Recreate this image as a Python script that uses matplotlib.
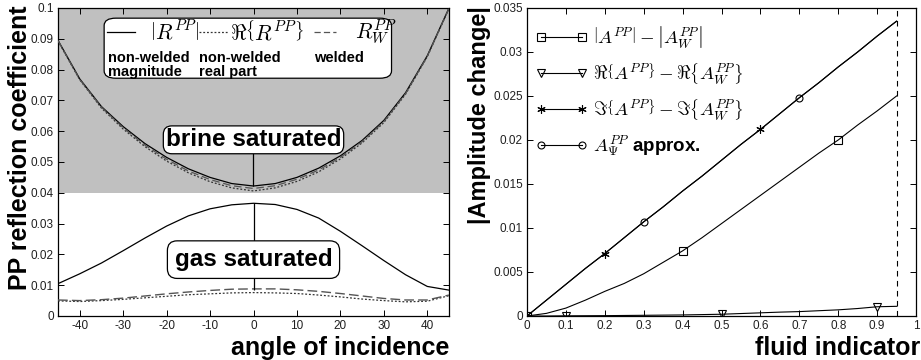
import matplotlib
matplotlib.use("Agg")
import matplotlib.pyplot as plt
from matplotlib.patches import FancyBboxPatch
from matplotlib.lines import Line2D
import numpy as np

plt.rcParams['font.family'] = ['Liberation Sans', 'DejaVu Sans']
plt.rcParams['mathtext.fontset'] = 'cm'

# ---------------- Data: left panel ----------------
angles = [-45, -40, -35, -30, -25, -20, -15, -10, -5, 0, 5, 10, 15, 20, 25, 30, 35, 40, 45]
brine_abs = [0.0895, 0.0770, 0.0680, 0.0615, 0.0560, 0.0515, 0.0478, 0.0450, 0.0430, 0.0422,
             0.0430, 0.0450, 0.0480, 0.0520, 0.0570, 0.0635, 0.0725, 0.0845, 0.1000]
brine_real = [0.0893, 0.0767, 0.0675, 0.0607, 0.0550, 0.0503, 0.0465, 0.0436, 0.0416, 0.0406,
              0.0416, 0.0437, 0.0468, 0.0510, 0.0562, 0.0628, 0.0720, 0.0842, 0.0998]
brine_welded = [0.0894, 0.0768, 0.0678, 0.0611, 0.0555, 0.0509, 0.0471, 0.0443, 0.0423, 0.0414,
                0.0423, 0.0444, 0.0474, 0.0515, 0.0566, 0.0631, 0.0722, 0.0843, 0.0999]
gas_abs = [0.0105, 0.0137, 0.0172, 0.0212, 0.0253, 0.0292, 0.0325, 0.0348, 0.0361, 0.0366,
           0.0362, 0.0346, 0.0318, 0.0275, 0.0228, 0.0180, 0.0134, 0.0096, 0.0084]
gas_real = [0.0049, 0.0047, 0.0050, 0.0054, 0.0059, 0.0064, 0.0069, 0.0072, 0.0075, 0.0076,
            0.0075, 0.0073, 0.0068, 0.0062, 0.0055, 0.0050, 0.0046, 0.0048, 0.0066]
gas_welded = [0.0052, 0.0050, 0.0053, 0.0058, 0.0065, 0.0072, 0.0078, 0.0083, 0.0087, 0.0088,
              0.0088, 0.0085, 0.0080, 0.0073, 0.0065, 0.0057, 0.0052, 0.0052, 0.0068]
left_xticks = [-40, -30, -20, -10, 0, 10, 20, 30, 40]
left_yticks = [0, 0.01, 0.02, 0.03, 0.04, 0.05, 0.06, 0.07, 0.08, 0.09, 0.1]
left_yticklabels = ['0', '0.01', '0.02', '0.03', '0.04', '0.05', '0.06', '0.07', '0.08', '0.09', '0.1']
brine_gas_boundary = 0.04

# ---------------- Data: right panel ----------------
fluid = [0.0, 0.05, 0.1, 0.15, 0.2, 0.25, 0.3, 0.35, 0.4, 0.45,
         0.5, 0.55, 0.6, 0.65, 0.7, 0.75, 0.8, 0.85, 0.9, 0.95]
abs_diff = [0.0, 0.0003, 0.0009, 0.0018, 0.0028, 0.0037, 0.0048, 0.0061, 0.0074, 0.0089,
            0.0105, 0.0121, 0.0137, 0.0153, 0.0169, 0.0185, 0.0200, 0.0217, 0.0233, 0.0250]
real_diff = [0.0, 0.0, 0.00002, 0.00003, 0.00004, 0.00006, 0.00008, 0.0001, 0.00012, 0.00016,
             0.0002, 0.00028, 0.00036, 0.00044, 0.0005, 0.0006, 0.0007, 0.00085, 0.00105, 0.0011]
imag_diff = [0.0, 0.0018, 0.0036, 0.0054, 0.0071, 0.0089, 0.0107, 0.0124, 0.0142, 0.0159,
             0.0177, 0.0195, 0.0212, 0.0230, 0.0248, 0.0265, 0.0283, 0.0300, 0.0318, 0.0335]
approx = [0.0, 0.0018, 0.0036, 0.0054, 0.0071, 0.0089, 0.0107, 0.0124, 0.0142, 0.0159,
          0.0177, 0.0195, 0.0212, 0.0230, 0.0248, 0.0265, 0.0283, 0.0300, 0.0318, 0.0335]
right_xticks = [0, 0.1, 0.2, 0.3, 0.4, 0.5, 0.6, 0.7, 0.8, 0.9, 1]
right_xticklabels = ['0', '0.1', '0.2', '0.3', '0.4', '0.5', '0.6', '0.7', '0.8', '0.9', '1']
right_yticks = [0, 0.005, 0.01, 0.015, 0.02, 0.025, 0.03, 0.035]
right_yticklabels = ['0', '0.005', '0.01', '0.015', '0.02', '0.025', '0.03', '0.035']

W, H = 921, 360
fig = plt.figure(figsize=(W / 100, H / 100), dpi=100)

def ax_rect(l, r, t, b):
    return [l / W, 1 - b / H, (r - l) / W, (b - t) / H]

tick_color = '#202020'

def style_axes(ax):
    ax.tick_params(direction='in', length=4, width=0.7, top=True, right=True,
                   labelsize=8.5, labelcolor=tick_color, pad=3)
    for s in ax.spines.values():
        s.set_linewidth(0.9)

# ---------------- Left panel ----------------
ax1 = fig.add_axes(ax_rect(58, 449, 8, 316))
ax1.axhspan(brine_gas_boundary, 0.1, color='#c0c0c0', lw=0, zorder=0)
ax1.plot(angles, brine_abs, color='black', lw=0.9, zorder=3)
ax1.plot(angles, brine_real, color='#333333', lw=0.9, ls=(0, (1.5, 1.5)), zorder=3)
ax1.plot(angles, brine_welded, color='#555555', lw=0.9, ls=(0, (6, 3)), zorder=3)
ax1.plot(angles, gas_abs, color='black', lw=0.9, zorder=3)
ax1.plot(angles, gas_real, color='#333333', lw=0.9, ls=(0, (1.5, 1.5)), zorder=3)
ax1.plot(angles, gas_welded, color='#555555', lw=1.0, ls=(0, (7, 3)), zorder=3)
ax1.set_xlim(-45, 45)
ax1.set_ylim(0, 0.1)
ax1.set_xticks(left_xticks)
ax1.set_xticklabels([str(v) for v in left_xticks])
ax1.set_yticks(left_yticks)
ax1.set_yticklabels(left_yticklabels)
style_axes(ax1)

i0 = angles.index(0)
ax1.annotate('brine saturated', xy=(0, brine_abs[i0]), xytext=(0, 0.0572),
             ha='center', va='center', fontsize=17.5, fontweight='bold',
             bbox=dict(boxstyle='round,pad=0.1,rounding_size=0.35', fc='white', ec='black', lw=0.9),
             arrowprops=dict(arrowstyle='-', lw=0.9, color='black', shrinkA=0, shrinkB=0),
             zorder=5)
ax1.vlines(angles[i0], gas_welded[i0] - 0.0004, gas_abs[i0], color='black', lw=0.9, zorder=4)
ax1.text(0, 0.0183, 'gas saturated', ha='center', va='center', fontsize=17.5,
         fontweight='bold',
         bbox=dict(boxstyle='round,pad=0.3,rounding_size=0.4', fc='white', ec='black', lw=0.9),
         zorder=5)

# custom legend box (axes coords)
leg_box = FancyBboxPatch((0.118, 0.772), 0.735, 0.195, transform=ax1.transAxes,
                         boxstyle='round,pad=0,rounding_size=0.03', fc='white', ec='black',
                         lw=0.9, zorder=6, mutation_aspect=0.8)
ax1.add_patch(leg_box)
row_y = 0.922
samples = [(0.125, 0.197, '-', 'black', r'$\left|R^{PP}\right|$', 0.235,
            'non-welded\nmagnitude', 0.128),
           (0.36, 0.435, (0, (1.5, 1.5)), '#333333', r'$\Re\left\{R^{PP}\right\}$', 0.44,
            'non-welded\nreal part', 0.36),
           (0.655, 0.71, (0, (5, 2.5)), '#555555', r'$R_W^{PP}$', 0.76,
            'welded', 0.655)]
for x0, x1, ls, col, lab, tx, sub, sx in samples:
    ax1.add_line(Line2D([x0, x1], [row_y, row_y], transform=ax1.transAxes, color=col,
                        lw=0.9, ls=ls, zorder=7))
    ax1.text(tx, row_y, lab, transform=ax1.transAxes, fontsize=15.5, ha='left',
             va='center', zorder=7)
    ax1.text(sx, 0.86, sub, transform=ax1.transAxes, fontsize=10.5, fontweight='bold',
             ha='left', va='top', linespacing=1.0, zorder=7)

# ---------------- Right panel ----------------
ax2 = fig.add_axes(ax_rect(527, 916, 8, 316))
mk = dict(color='black', lw=0.8, markerfacecolor='none', markeredgecolor='black',
          markeredgewidth=0.8)
ax2.plot(fluid, abs_diff, marker='s', ms=6, markevery=[0, 8, 16],
         label=r'$\left|A^{PP}\right|-\left|A_W^{PP}\right|$', **mk)
ax2.plot(fluid, real_diff, marker='v', ms=6, markevery=[2, 10, 18],
         label=r'$\Re\left\{A^{PP}\right\}-\Re\left\{A_W^{PP}\right\}$', **mk)
ax2.plot(fluid, imag_diff, marker=(6, 2, 0), ms=6, markevery=[4, 12],
         label=r'$\Im\left\{A^{PP}\right\}-\Im\left\{A_W^{PP}\right\}$', **mk)
ax2.plot(fluid, approx, marker='o', ms=5, markevery=[6, 14],
         label=r'$A_\Psi^{PP}$ approx.', **mk)
ax2.axvline(fluid[-1], color='black', lw=0.8, ls=(0, (5, 4)))
ax2.set_xlim(0, 1)
ax2.set_ylim(0, 0.035)
ax2.set_xticks(right_xticks)
ax2.set_xticklabels(right_xticklabels)
ax2.set_yticks(right_yticks)
ax2.set_yticklabels(right_yticklabels)
style_axes(ax2)
ax2.legend(loc='upper left', frameon=False, numpoints=2, handlelength=2.8,
           prop={'size': 13.5, 'weight': 'bold'}, labelspacing=0.6,
           borderaxespad=0.45, handletextpad=0.3, bbox_to_anchor=(-0.02, 1.0))

# ---------------- Axis labels ----------------
fig.text(20 / W, 1 - 148 / H, 'PP reflection coefficient', rotation=90, ha='center',
         va='center', fontsize=18, fontweight='bold')
fig.text(449 / W, 1 - 355 / H, 'angle of incidence', ha='right', va='baseline',
         fontsize=18, fontweight='bold')
fig.text(479 / W, 1 - 115 / H, '|Amplitude change|', rotation=90, ha='center',
         va='center', fontsize=17, fontweight='bold')
fig.text(920 / W, 1 - 355 / H, 'fluid indicator', ha='right', va='baseline',
         fontsize=18, fontweight='bold')

fig.savefig('out.png', dpi=100)
